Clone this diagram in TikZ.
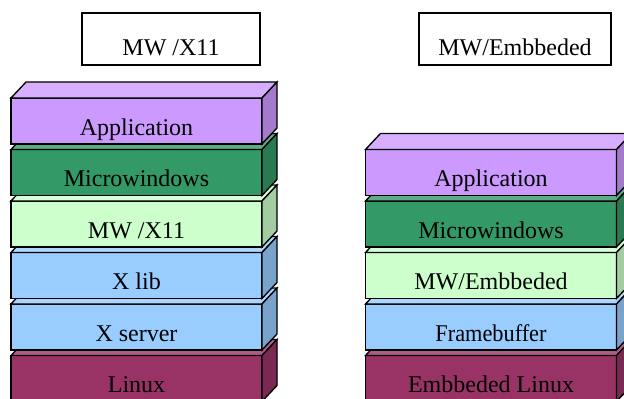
\documentclass[tikz,border=0pt]{standalone}
\usepackage{fontspec}
\setmainfont{Liberation Serif}
\newfontfamily\narrowfont[FakeStretch=0.93]{Liberation Serif}
\usetikzlibrary{positioning}

\definecolor{appcol}{HTML}{CC99FF}
\definecolor{mwcol}{HTML}{339966}
\definecolor{xelevencol}{HTML}{CCFFCC}
\definecolor{xcol}{HTML}{99CCFF}
\definecolor{linuxcol}{HTML}{993366}

% top and right faces of a layer
\newcommand{\layerfaces}[2]{%
  \draw[fill=#2!80!white] (#1.north west) -- ++(15,-16) -- ++(251,0) -- (#1.north east) -- cycle;
  \draw[fill=#2!80!black] (#1.north east) -- ++(15,-16) -- ++(0,46) -- (#1.south east) -- cycle;}

\begin{document}
\begin{tikzpicture}[x=0.75pt,y=-0.75pt,line width=1pt,node distance=38.625pt,
                    font=\fontsize{18}{20}\selectfont,
                    layer/.style={rectangle,draw,fill=#1,outer sep=0pt,minimum width=188.25pt,
                      minimum height=34.5pt,text height=21.5pt,text depth=0pt,inner sep=4pt},
                    title/.style={rectangle,draw,outer sep=0pt,minimum height=39pt,
                      text height=25pt,text depth=0pt,inner sep=4pt}]

  \useasboundingbox (0,0) rectangle (624,399);
  \clip (0,0) rectangle (624,399);

  \node[title,minimum width=133.5pt](x11title) at (171,39) {MW /X11};
  \node[title,minimum width=144pt](embtitle) at (515,39) {MW/Embbeded};

  % X11 stack, bottom up
  \node[layer=linuxcol](linux) at (136.5,378.5) {Linux};
  \layerfaces{linux}{linuxcol}
  \node[layer=xcol](xserver) [above of=linux] {X server};
  \layerfaces{xserver}{xcol}
  \node[layer=xcol](xlib) [above of=xserver] {X lib};
  \layerfaces{xlib}{xcol}
  \node[layer=xelevencol](mwx) [above of=xlib] {MW /X11};
  \layerfaces{mwx}{xelevencol}
  \node[layer=mwcol](mw1) [above of=mwx] {Microwindows};
  \layerfaces{mw1}{mwcol}
  \node[layer=appcol](app1) [above of=mw1] {Application};
  \layerfaces{app1}{appcol}

  % embedded stack, bottom up
  \node[layer=linuxcol](emblinux) at (491,378.5) {Embbeded Linux};
  \layerfaces{emblinux}{linuxcol}
  \node[layer=xcol](fb) [above of=emblinux] {\narrowfont Framebuffer};
  \layerfaces{fb}{xcol}
  \node[layer=xelevencol](mwemb) [above of=fb] {MW/Embbeded};
  \layerfaces{mwemb}{xelevencol}
  \node[layer=mwcol](mw2) [above of=mwemb] {Microwindows};
  \layerfaces{mw2}{mwcol}
  \node[layer=appcol](app2) [above of=mw2] {Application};
  \layerfaces{app2}{appcol}
\end{tikzpicture}
\end{document}
